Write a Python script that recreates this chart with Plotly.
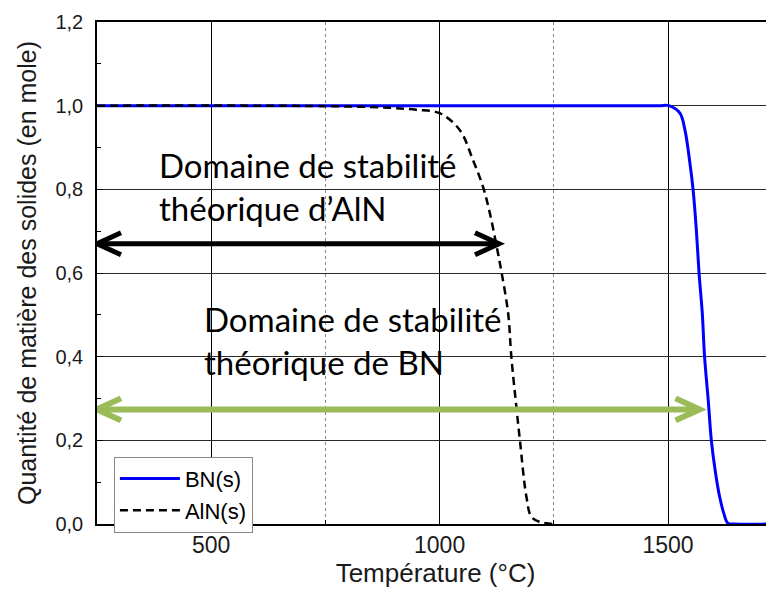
import plotly.graph_objects as go

# ---- data ----
bn_T = [250, 1400, 1480, 1502, 1526, 1537, 1548, 1555, 1562, 1568, 1575, 1580, 1588, 1595,
        1604, 1613, 1622, 1631, 1645, 1732]
bn_n = [1.0, 1.0, 1.0, 1.0, 0.982, 0.942, 0.862, 0.798, 0.703, 0.599, 0.504, 0.400, 0.296, 0.198,
        0.122, 0.065, 0.026, 0.002, 0.0, 0.0]

aln_T = [250, 600, 800, 891, 949, 1000, 1044, 1073, 1095, 1110, 1125, 1136, 1150, 1157, 1168,
         1176, 1190, 1201, 1219, 1248]
aln_n = [1.0, 1.0, 0.998, 0.995, 0.990, 0.982, 0.942, 0.870, 0.806, 0.743, 0.663, 0.599, 0.504,
         0.400, 0.280, 0.198, 0.065, 0.017, 0.005, 0.0]

aln_domain = [250, 1130]   # stability range of AlN (arrow)
aln_level = 0.670
bn_domain = [250, 1569]    # stability range of BN (arrow)
bn_level = 0.274

x_range = [250, 1732]
y_range = [0, 1.2]
x_ticks = [500, 1000, 1500]
y_ticks = [0.0, 0.2, 0.4, 0.6, 0.8, 1.0, 1.2]

AX_FONT = "Liberation Sans, Arial, sans-serif"
TXT_FONT = "Lato, Carlito, Calibri, sans-serif"

fig = go.Figure()
fig.add_trace(go.Scatter(x=bn_T, y=bn_n, mode="lines", name="BN(s)",
                         line=dict(color="#0000FF", width=3), line_shape="spline"))
fig.add_trace(go.Scatter(x=aln_T, y=aln_n, mode="lines", name="AlN(s)",
                         line=dict(color="black", width=2.5, dash="8px,5px"), line_shape="spline"))

def arrow(x0, x1, y, color, width, back, half):
    fig.add_shape(type="line", xref="x", yref="y", x0=x0, x1=x1, y0=y, y1=y,
                  line=dict(color=color, width=width), layer="above")
    for anchor, sgn in ((x1, -1), (x0, 1)):
        fig.add_shape(type="path", xref="x", yref="y", xsizemode="pixel", ysizemode="pixel",
                      xanchor=anchor, yanchor=y,
                      path=f"M {sgn*back},{half} L 0,0 L {sgn*back},{-half}",
                      line=dict(color=color, width=width), layer="above")

arrow(aln_domain[0], aln_domain[1], aln_level, "black", 5, 24, 11)
arrow(bn_domain[0], bn_domain[1], bn_level, "#9BBB59", 6, 24, 11)

fig.add_annotation(text="Domaine de stabilité<br>théorique d’AlN", xref="paper", yref="paper",
                   x=0.0886, y=0.672, xanchor="left", yanchor="middle", align="left",
                   showarrow=False, font=dict(family=TXT_FONT, size=33, color="black"))
fig.add_annotation(text="Domaine de stabilité<br>théorique de BN", xref="paper", yref="paper",
                   x=0.155, y=0.365, xanchor="left", yanchor="middle", align="left",
                   showarrow=False, font=dict(family=TXT_FONT, size=33, color="black"))

# page body has an 8px margin: figure is shifted by (8, 8) in the window
fig.update_layout(
    width=766, height=583,
    margin=dict(l=89, r=0, t=14, b=67),
    paper_bgcolor="white", plot_bgcolor="white",
    separators=", ",
    showlegend=True,
    legend=dict(x=0.025, y=0.134, xanchor="left", yanchor="top",
                bordercolor="#888888", borderwidth=1, bgcolor="white",
                font=dict(family=AX_FONT, size=22, color="black"),
                tracegroupgap=0, itemwidth=60),
    xaxis=dict(range=x_range, tickvals=x_ticks, showline=True, linecolor="black", linewidth=1.5,
               mirror=True, ticks="inside", ticklen=6, tickcolor="black",
               showgrid=True, gridcolor="black", gridwidth=1,
               minor=dict(dtick=250, showgrid=True, gridcolor="#888888", griddash="dot",
                          ticks="inside", ticklen=4, tickcolor="black"),
               tickfont=dict(family=AX_FONT, size=23, color="#1a1a1a"),
               title=dict(text="Température (°C)", font=dict(family=AX_FONT, size=26, color="#1a1a1a"),
                          standoff=6),
               zeroline=False, automargin=False),
    yaxis=dict(range=y_range, tickvals=y_ticks, tickformat=".1f", showline=True, linecolor="black",
               linewidth=1.5, mirror=False, ticks="inside", ticklen=6, tickcolor="black",
               showgrid=True, gridcolor="#2a2a2a", gridwidth=1,
               minor=dict(dtick=0.1, ticks="inside", ticklen=4, tickcolor="black", showgrid=False),
               tickfont=dict(family=AX_FONT, size=20, color="#1a1a1a"),
               ticklabelstandoff=8,
               title=dict(text="Quantité de matière des solides (en mole)",
                          font=dict(family=AX_FONT, size=25, color="#1a1a1a"), standoff=12),
               zeroline=False, automargin=False),
)

fig.write_html("out.html")
